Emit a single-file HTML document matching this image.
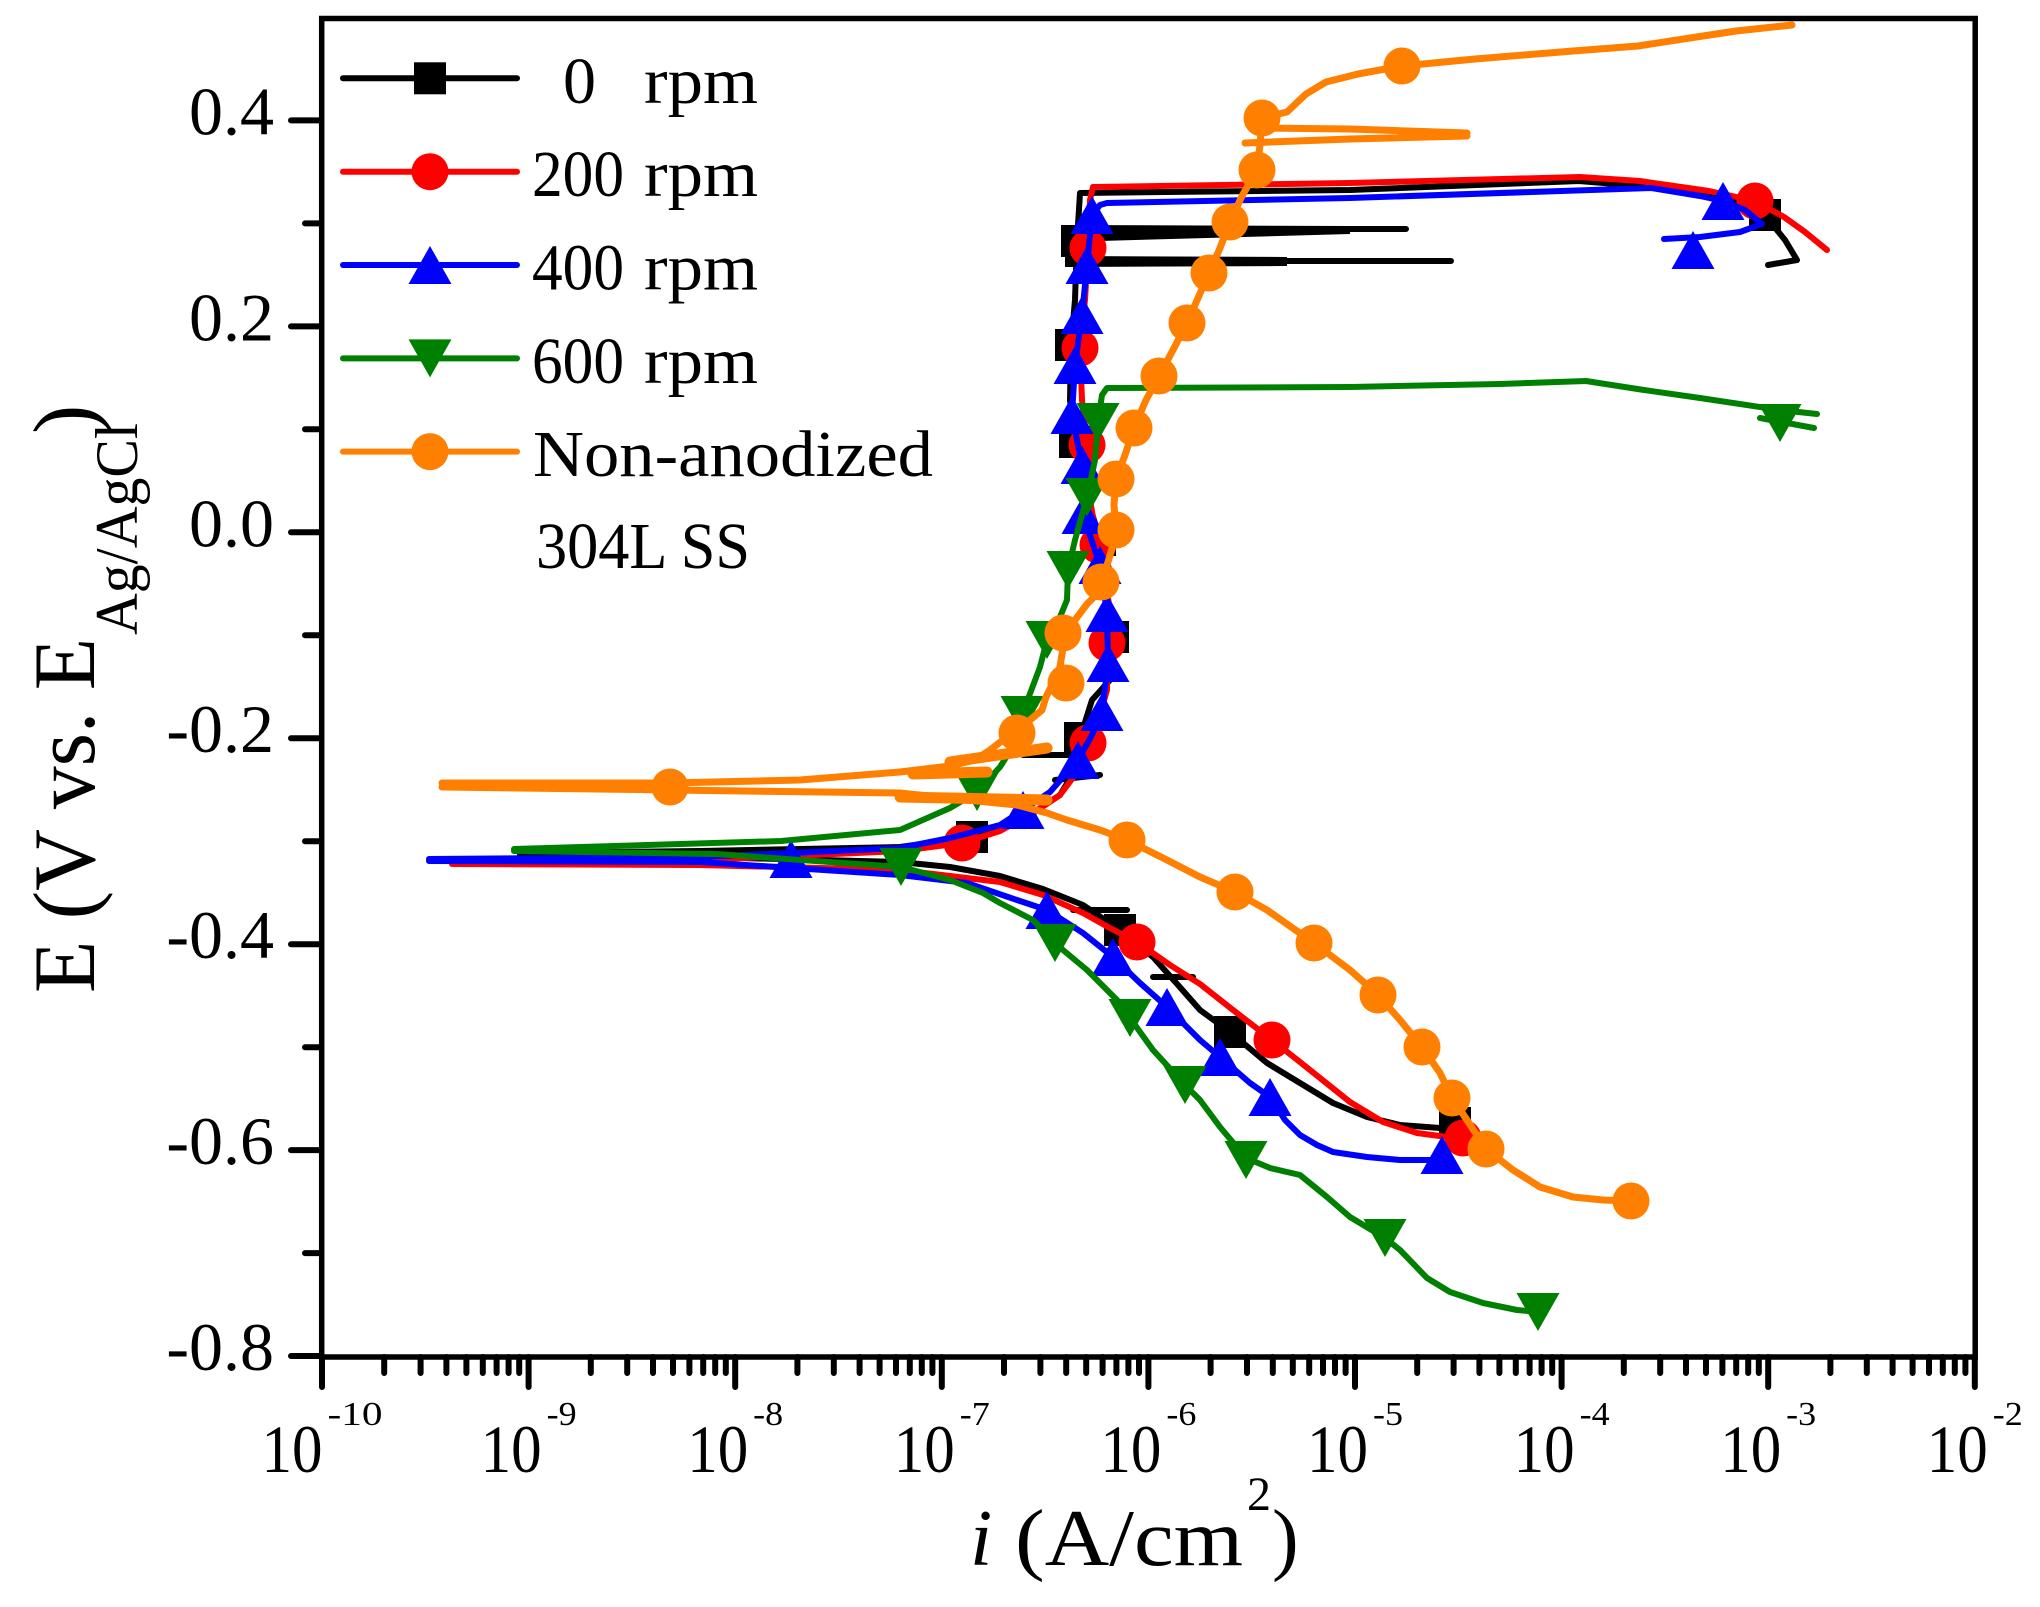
<!DOCTYPE html>
<html><head><meta charset="utf-8"><style>html,body{margin:0;padding:0;background:#fff;}svg{display:block;}</style></head>
<body>
<svg xmlns="http://www.w3.org/2000/svg" xmlns:xlink="http://www.w3.org/1999/xlink" width="2040" height="1607" viewBox="0 0 2040 1607" font-family="'Liberation Serif', serif">
<defs>
<rect id="sq" x="-16" y="-16" width="32" height="32"/>
<circle id="ci" cx="0" cy="0" r="18.5"/>
<path id="tu" d="M0,-19 L21.5,19 L-21.5,19 Z"/>
<path id="td" d="M0,19 L21.5,-19 L-21.5,-19 Z"/>
</defs>
<rect width="2040" height="1607" fill="#fff"/>

<!-- BLACK 0 rpm -->
<g fill="none" stroke="#000" stroke-width="6" stroke-linejoin="round" stroke-linecap="round">
<path d="M520,855 L700,857 L900,862 L950,867 L1000,876 L1043,889 L1083,905 L1120,930 L1153,957 L1178,985 L1200,1010 L1230,1032 L1267,1063 L1300,1083 L1333,1103 L1367,1117 L1400,1125 L1440,1128 L1455,1124"/>
<path d="M1073,910 H1127 M1153,977 H1193"/>
<path d="M520,853 L700,851 L900,847 L972,837 L1030,815 L1060,795 L1075,770 L1080,738 L1092,700 L1110,680 L1113,637 L1105,590 L1100,540 L1085,490 L1075,442 L1070,400 L1071,345 L1075,300 L1077,241 L1080,193 L1350,190 L1579,181 L1640,186 L1710,196 L1745,205 L1768,219 L1785,240 L1797,260 L1768,265"/>
<path d="M1023,755 H1072 M1055,780 L1100,775"/>
<path d="M1350,229 L1406,229 M1287,261 L1451,261"/>
</g>
<path d="M1065,225 L1350,226 L1350,234 L1065,242 Z M1065,256 L1287,257 L1287,266 L1065,267 Z" fill="#000"/>
<g fill="#000">
<use xlink:href="#sq" x="972" y="837"/><use xlink:href="#sq" x="1080" y="738"/><use xlink:href="#sq" x="1113" y="637"/>
<use xlink:href="#sq" x="1100" y="540"/><use xlink:href="#sq" x="1075" y="442"/><use xlink:href="#sq" x="1071" y="345"/>
<use xlink:href="#sq" x="1077" y="241"/><use xlink:href="#sq" x="1120" y="930"/><use xlink:href="#sq" x="1230" y="1032"/>
<use xlink:href="#sq" x="1455" y="1123"/><use xlink:href="#sq" x="1765" y="215"/>
</g>

<!-- RED 200 rpm -->
<g fill="none" stroke="#ff0000" stroke-width="6" stroke-linejoin="round" stroke-linecap="round">
<path d="M452,864 L700,865 L900,870 L950,876 L1000,882 L1043,895 L1083,913 L1110,928 L1137,942 L1170,965 L1200,984 L1233,1010 L1272,1040 L1300,1062 L1320,1078 L1350,1102 L1383,1122 L1417,1133 L1447,1137 L1463,1138"/>
<path d="M452,862 L700,860 L900,851 L962,843 L1000,831 L1033,813 L1060,795 L1075,775 L1088,743 L1100,715 L1107,690 L1107,643 L1110,610 L1105,580 L1098,545 L1090,500 L1087,445 L1082,400 L1080,348 L1085,300 L1088,248 L1090,200 L1093,187 L1350,183 L1580,177 L1640,181 L1709,191 L1755,201 L1784,217 L1805,232 L1827,250"/>
</g>
<g fill="#ff0000">
<use xlink:href="#ci" x="962" y="843"/><use xlink:href="#ci" x="1088" y="743"/><use xlink:href="#ci" x="1107" y="643"/>
<use xlink:href="#ci" x="1098" y="545"/><use xlink:href="#ci" x="1087" y="445"/><use xlink:href="#ci" x="1080" y="348"/>
<use xlink:href="#ci" x="1088" y="248"/><use xlink:href="#ci" x="1137" y="942"/><use xlink:href="#ci" x="1272" y="1040"/>
<use xlink:href="#ci" x="1463" y="1138"/><use xlink:href="#ci" x="1755" y="201"/>
</g>

<!-- BLUE 400 rpm -->
<g fill="none" stroke="#0000ff" stroke-width="6" stroke-linejoin="round" stroke-linecap="round">
<path d="M429,861 L700,862 L900,875 L967,883 L1017,900 L1047,910 L1083,933 L1113,957 L1140,983 L1167,1007 L1200,1040 L1220,1057 L1250,1083 L1270,1097 L1285,1120 L1300,1135 L1317,1145 L1333,1152 L1367,1157 L1400,1160 L1442,1160"/>
<path d="M429,859 L700,857 L900,848 L950,838 L1000,825 L1023,810 L1050,792 L1078,760 L1092,735 L1102,712 L1108,663 L1107,613 L1100,565 L1083,515 L1082,465 L1072,415 L1075,365 L1082,315 L1087,265 L1092,215 L1100,205 L1107,203 L1350,198 L1651,188 L1700,196 L1723,201 L1745,210 L1762,224 L1740,232 L1700,237 L1664,239"/>
</g>
<g fill="#0000ff">
<use xlink:href="#tu" x="1023" y="810"/><use xlink:href="#tu" x="1078" y="760"/><use xlink:href="#tu" x="1102" y="712"/>
<use xlink:href="#tu" x="1108" y="663"/><use xlink:href="#tu" x="1107" y="613"/><use xlink:href="#tu" x="1100" y="565"/>
<use xlink:href="#tu" x="1083" y="515"/><use xlink:href="#tu" x="1082" y="465"/><use xlink:href="#tu" x="1072" y="415"/>
<use xlink:href="#tu" x="1075" y="365"/><use xlink:href="#tu" x="1082" y="315"/><use xlink:href="#tu" x="1087" y="265"/>
<use xlink:href="#tu" x="1092" y="215"/><use xlink:href="#tu" x="791" y="859"/><use xlink:href="#tu" x="1047" y="910"/>
<use xlink:href="#tu" x="1113" y="957"/><use xlink:href="#tu" x="1167" y="1007"/><use xlink:href="#tu" x="1220" y="1057"/>
<use xlink:href="#tu" x="1270" y="1097"/><use xlink:href="#tu" x="1442" y="1155"/><use xlink:href="#tu" x="1723" y="201"/>
<use xlink:href="#tu" x="1693" y="250"/>
</g>

<!-- GREEN 600 rpm -->
<g fill="none" stroke="#008000" stroke-width="6" stroke-linejoin="round" stroke-linecap="round">
<path d="M514,851 L716,854 L901,867 L950,880 L983,893 L1000,903 L1033,920 L1057,945 L1087,970 L1117,1000 L1130,1018 L1153,1050 L1185,1085 L1200,1100 L1220,1127 L1246,1158 L1270,1168 L1300,1175 L1327,1197 L1350,1217 L1385,1238 L1400,1250 L1427,1278 L1450,1292 L1483,1303 L1517,1310 L1538,1312"/>
<path d="M514,849 L781,841 L900,830 L950,808 L977,792 L1000,767 L1017,740 L1022,715 L1040,667 L1047,640 L1060,617 L1067,600 L1068,570 L1075,540 L1087,497 L1095,460 L1098,422 L1102,395 L1107,388 L1350,387 L1500,384 L1586,381 L1644,390 L1700,398 L1780,410 L1817,414"/>
<path d="M1760,418 L1814,428"/>
</g>
<g fill="#008000">
<use xlink:href="#td" x="901" y="867"/><use xlink:href="#td" x="977" y="792"/><use xlink:href="#td" x="1022" y="715"/>
<use xlink:href="#td" x="1047" y="640"/><use xlink:href="#td" x="1068" y="570"/><use xlink:href="#td" x="1087" y="497"/>
<use xlink:href="#td" x="1098" y="422"/><use xlink:href="#td" x="1055" y="943"/><use xlink:href="#td" x="1130" y="1018"/>
<use xlink:href="#td" x="1185" y="1085"/><use xlink:href="#td" x="1246" y="1160"/><use xlink:href="#td" x="1385" y="1238"/>
<use xlink:href="#td" x="1538" y="1312"/><use xlink:href="#td" x="1780" y="423"/>
</g>

<!-- ORANGE Non-anodized -->
<g fill="none" stroke="#ff8000" stroke-width="7" stroke-linejoin="round" stroke-linecap="round">
<path d="M442,783 L670,783 L800,780 L900,772 L950,766 L975,760 L990,750 L1003,740 L1015,730 L1030,720 L1042,710 L1046,697 L1052,685 L1060,667 L1063,648 L1063,633 L1075,620 L1087,604 L1097,594 L1101,582 L1108,562 L1113,545 L1116,530 L1114,505 L1116,479 L1125,455 L1134,428 L1146,400 L1159,376 L1173,350 L1187,323 L1198,298 L1209,273 L1220,248 L1230,222 L1242,196 L1257,170 L1260,145 L1262,118 L1287,112 L1306,94 L1326,82 L1358,74 L1402,66 L1475,59 L1573,51 L1638,46 L1703,36 L1736,31 L1792,25"/>
<path d="M1262,128 L1350,129 L1467,133 M1245,143 L1350,139 L1467,136"/>
<path d="M442,787 L670,790 L900,793 L967,800 L1017,805 L1047,813 L1067,820 L1100,830 L1127,840 L1167,860 L1200,877 L1235,892 L1267,910 L1314,943 L1350,970 L1378,995 L1400,1020 L1422,1047 L1440,1073 L1452,1098 L1467,1120 L1486,1149 L1513,1170 L1540,1187 L1573,1197 L1603,1200 L1631,1201"/>
<path d="M913,774 L987,772 M950,762 L1047,748 M900,797 L1047,800" stroke-width="11"/>
</g>
<g fill="#ff8000">
<use xlink:href="#ci" x="670" y="787"/><use xlink:href="#ci" x="1017" y="733"/><use xlink:href="#ci" x="1066" y="683"/>
<use xlink:href="#ci" x="1063" y="633"/><use xlink:href="#ci" x="1101" y="582"/><use xlink:href="#ci" x="1116" y="530"/>
<use xlink:href="#ci" x="1116" y="479"/><use xlink:href="#ci" x="1134" y="428"/><use xlink:href="#ci" x="1159" y="376"/>
<use xlink:href="#ci" x="1187" y="323"/><use xlink:href="#ci" x="1209" y="273"/><use xlink:href="#ci" x="1230" y="222"/>
<use xlink:href="#ci" x="1257" y="170"/><use xlink:href="#ci" x="1262" y="118"/><use xlink:href="#ci" x="1402" y="66"/>
<use xlink:href="#ci" x="1127" y="840"/><use xlink:href="#ci" x="1235" y="892"/><use xlink:href="#ci" x="1314" y="943"/>
<use xlink:href="#ci" x="1378" y="995"/><use xlink:href="#ci" x="1422" y="1047"/><use xlink:href="#ci" x="1452" y="1098"/>
<use xlink:href="#ci" x="1486" y="1149"/><use xlink:href="#ci" x="1631" y="1201"/>
</g>

<!-- AXES FRAME -->
<rect x="321.7" y="18.5" width="1653.5" height="1338.5" fill="none" stroke="#000" stroke-width="5.5"/>

<!-- Y ticks -->
<g stroke="#000" stroke-width="6" stroke-linecap="round" fill="none">
<path d="M291,120.4 H321 M291,326.4 H321 M291,532.3 H321 M291,738.2 H321 M291,944.2 H321 M291,1150.1 H321 M291,1356 H321"/>
<path d="M305,223.4 H321 M305,429.3 H321 M305,635.3 H321 M305,841.2 H321 M305,1047.2 H321 M305,1253.1 H321"/>
<!-- X major ticks -->
<path d="M322,1357 V1387 M528.6,1357 V1387 M735.2,1357 V1387 M941.8,1357 V1387 M1148.4,1357 V1387 M1355,1357 V1387 M1561.6,1357 V1387 M1768.2,1357 V1387 M1974.8,1357 V1387"/>
<!-- X minor ticks -->
<path d="M384.2,1357V1373 M420.6,1357V1373 M446.4,1357V1373 M466.4,1357V1373 M482.8,1357V1373 M496.6,1357V1373 M508.6,1357V1373 M519.2,1357V1373
M590.8,1357V1373 M627.2,1357V1373 M653,1357V1373 M673,1357V1373 M689.4,1357V1373 M703.2,1357V1373 M715.2,1357V1373 M725.8,1357V1373
M797.4,1357V1373 M833.8,1357V1373 M859.6,1357V1373 M879.6,1357V1373 M896,1357V1373 M909.8,1357V1373 M921.8,1357V1373 M932.4,1357V1373
M1004,1357V1373 M1040.4,1357V1373 M1066.2,1357V1373 M1086.2,1357V1373 M1102.6,1357V1373 M1116.4,1357V1373 M1128.4,1357V1373 M1139,1357V1373
M1210.6,1357V1373 M1247,1357V1373 M1272.8,1357V1373 M1292.8,1357V1373 M1309.2,1357V1373 M1323,1357V1373 M1335,1357V1373 M1345.6,1357V1373
M1417.2,1357V1373 M1453.6,1357V1373 M1479.4,1357V1373 M1499.4,1357V1373 M1515.8,1357V1373 M1529.6,1357V1373 M1541.6,1357V1373 M1552.2,1357V1373
M1623.8,1357V1373 M1660.2,1357V1373 M1686,1357V1373 M1706,1357V1373 M1722.4,1357V1373 M1736.2,1357V1373 M1748.2,1357V1373 M1758.8,1357V1373
M1830.4,1357V1373 M1866.8,1357V1373 M1892.6,1357V1373 M1912.6,1357V1373 M1929,1357V1373 M1942.8,1357V1373 M1954.8,1357V1373 M1965.4,1357V1373"/>
</g>

<!-- Y tick labels -->
<g font-size="68" text-anchor="end" fill="#000">
<text x="274" y="134.4">0.4</text>
<text x="274" y="340.4">0.2</text>
<text x="274" y="546.3">0.0</text>
<text x="274" y="752.2">-0.2</text>
<text x="274" y="958.2">-0.4</text>
<text x="274" y="1164.1">-0.6</text>
<text x="274" y="1370">-0.8</text>
</g>

<!-- X tick labels -->
<g fill="#000">
<text x="261.5" y="1472" font-size="68" textLength="61" lengthAdjust="spacingAndGlyphs">10</text><text x="327.5" y="1425" font-size="34" textLength="55" lengthAdjust="spacingAndGlyphs">-10</text>
<text x="480.6" y="1472" font-size="68" textLength="61" lengthAdjust="spacingAndGlyphs">10</text><text x="546.6" y="1425" font-size="34" textLength="30" lengthAdjust="spacingAndGlyphs">-9</text>
<text x="687.2" y="1472" font-size="68" textLength="61" lengthAdjust="spacingAndGlyphs">10</text><text x="753.2" y="1425" font-size="34" textLength="30" lengthAdjust="spacingAndGlyphs">-8</text>
<text x="893.8" y="1472" font-size="68" textLength="61" lengthAdjust="spacingAndGlyphs">10</text><text x="959.8" y="1425" font-size="34" textLength="30" lengthAdjust="spacingAndGlyphs">-7</text>
<text x="1100.4" y="1472" font-size="68" textLength="61" lengthAdjust="spacingAndGlyphs">10</text><text x="1166.4" y="1425" font-size="34" textLength="30" lengthAdjust="spacingAndGlyphs">-6</text>
<text x="1307" y="1472" font-size="68" textLength="61" lengthAdjust="spacingAndGlyphs">10</text><text x="1373" y="1425" font-size="34" textLength="30" lengthAdjust="spacingAndGlyphs">-5</text>
<text x="1513.6" y="1472" font-size="68" textLength="61" lengthAdjust="spacingAndGlyphs">10</text><text x="1579.6" y="1425" font-size="34" textLength="30" lengthAdjust="spacingAndGlyphs">-4</text>
<text x="1720.2" y="1472" font-size="68" textLength="61" lengthAdjust="spacingAndGlyphs">10</text><text x="1786.2" y="1425" font-size="34" textLength="30" lengthAdjust="spacingAndGlyphs">-3</text>
<text x="1926.8" y="1472" font-size="68" textLength="61" lengthAdjust="spacingAndGlyphs">10</text><text x="1992.8" y="1425" font-size="34" textLength="30" lengthAdjust="spacingAndGlyphs">-2</text>
</g>

<!-- X axis title -->
<g fill="#000">
<text x="970" y="1565" font-size="80" font-style="italic">i</text>
<text x="1015" y="1565" font-size="80" textLength="228" lengthAdjust="spacingAndGlyphs">(A/cm</text>
<text x="1247" y="1510" font-size="48">2</text>
<text x="1272" y="1565" font-size="80">)</text>
</g>

<!-- Y axis title -->
<g fill="#000">
<text transform="translate(94,993) rotate(-90)" font-size="88" textLength="355" lengthAdjust="spacingAndGlyphs">E (V vs. E</text>
<text transform="translate(137,635) rotate(-90)" font-size="60" textLength="212" lengthAdjust="spacingAndGlyphs">Ag/AgCl</text>
<text transform="translate(94,434) rotate(-90)" font-size="88">)</text>
</g>

<!-- LEGEND -->
<g stroke-width="6" stroke-linecap="round">
<line x1="343" y1="78.3" x2="517" y2="78.3" stroke="#000"/>
<line x1="343" y1="171.7" x2="517" y2="171.7" stroke="#ff0000"/>
<line x1="343" y1="265" x2="517" y2="265" stroke="#0000ff"/>
<line x1="343" y1="358.4" x2="517" y2="358.4" stroke="#008000"/>
<line x1="343" y1="451.6" x2="517" y2="451.6" stroke="#ff8000"/>
</g>
<use xlink:href="#sq" x="430" y="78.3" fill="#000"/>
<use xlink:href="#ci" x="430" y="171.7" fill="#ff0000"/>
<use xlink:href="#tu" x="430" y="265" fill="#0000ff"/>
<use xlink:href="#td" x="430" y="358.4" fill="#008000"/>
<use xlink:href="#ci" x="430" y="451.6" fill="#ff8000"/>
<g font-size="66" fill="#000">
<text x="563" y="103">0</text>
<text x="644" y="103" textLength="114" lengthAdjust="spacingAndGlyphs">rpm</text>
<text x="532" y="196" textLength="92" lengthAdjust="spacingAndGlyphs">200</text>
<text x="644" y="196" textLength="114" lengthAdjust="spacingAndGlyphs">rpm</text>
<text x="532" y="289.5" textLength="92" lengthAdjust="spacingAndGlyphs">400</text>
<text x="644" y="289.5" textLength="114" lengthAdjust="spacingAndGlyphs">rpm</text>
<text x="532" y="383" textLength="92" lengthAdjust="spacingAndGlyphs">600</text>
<text x="644" y="383" textLength="114" lengthAdjust="spacingAndGlyphs">rpm</text>
<text x="533" y="476" textLength="400" lengthAdjust="spacingAndGlyphs">Non-anodized</text>
<text x="536" y="568" textLength="214" lengthAdjust="spacingAndGlyphs">304L SS</text>
</g>
</svg>
</body></html>
